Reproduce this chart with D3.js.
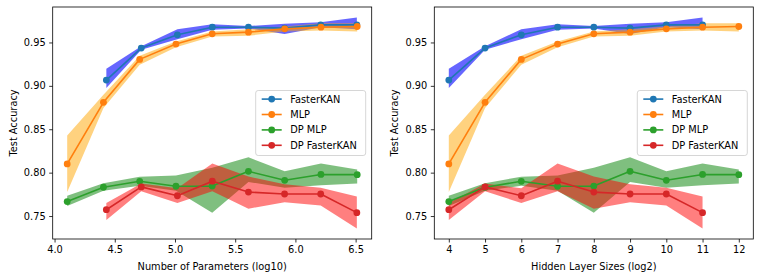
<!DOCTYPE html>
<html><head><meta charset="utf-8">
<script src="https://cdn.jsdelivr.net/npm/d3@7"></script>
<style>
body{margin:0;background:#fff}
svg{display:block}
text{font-family:"DejaVu Sans",sans-serif;fill:#000}
</style>
</head><body>
<script>
// ---- data ----
const mlpParamsLog10 = [4.105, 4.406, 4.707, 5.008, 5.309, 5.610, 5.911, 6.212, 6.513];
const kanParamsLog10 = [4.43, 4.72, 5.02, 5.31, 5.61, 5.91, 6.21, 6.51];
const mlpHiddenLog2 = [4, 5, 6, 7, 8, 9, 10, 11, 12];
const kanHiddenLog2 = [4, 5, 6, 7, 8, 9, 10, 11];

const fasterKanMean = [0.9067, 0.9435, 0.9588, 0.9676, 0.9676, 0.9665, 0.9703, 0.9703];
const fasterKanHi   = [0.9197, 0.9455, 0.9653, 0.9710, 0.9690, 0.9715, 0.9734, 0.9787];
const fasterKanLo   = [0.8975, 0.9415, 0.9538, 0.9646, 0.9662, 0.9596, 0.9676, 0.9653];

const mlpMean = [0.8101, 0.8810, 0.9305, 0.9481, 0.9600, 0.9619, 0.9657, 0.9676, 0.9684];
const mlpHi   = [0.8427, 0.8898, 0.9347, 0.9511, 0.9626, 0.9653, 0.9684, 0.9722, 0.9722];
const mlpLo   = [0.7776, 0.8745, 0.9243, 0.9446, 0.9569, 0.9577, 0.9626, 0.9638, 0.9626];

const dpMlpMean = [0.7667, 0.7832, 0.7900, 0.7843, 0.7845, 0.8015, 0.7912, 0.7979, 0.7977];
const dpMlpHi   = [0.7735, 0.7878, 0.7953, 0.7968, 0.8056, 0.8176, 0.8017, 0.8106, 0.8037];
const dpMlpLo   = [0.7615, 0.7790, 0.7849, 0.7790, 0.7538, 0.7893, 0.7826, 0.7855, 0.7874];

const dpKanMean = [0.7573, 0.7836, 0.7734, 0.7902, 0.7776, 0.7754, 0.7754, 0.7539];
const dpKanHi   = [0.7650, 0.7876, 0.7820, 0.8104, 0.7955, 0.7865, 0.7826, 0.7726];
const dpKanLo   = [0.7454, 0.7786, 0.7650, 0.7787, 0.7585, 0.7658, 0.7622, 0.7357];

const seriesNames = ["FasterKAN", "MLP", "DP MLP", "DP FasterKAN"];
const lineColors = ["#1f77b4", "#ff7f0e", "#2ca02c", "#d62728"];
const bandColors = ["blue", "orange", "green", "red"];
const bandAlpha = [0.6, 0.5, 0.5, 0.5];

const leftTicks = [4.0, 4.5, 5.0, 5.5, 6.0, 6.5];
const rightTicks = [4, 5, 6, 7, 8, 9, 10, 11, 12];
const yTicks = [0.75, 0.80, 0.85, 0.90, 0.95];

// ---- drawing ----
const W = 761, H = 279, FS = 9.8;
const svg = d3.select("body").append("svg").attr("width", W).attr("height", H);

function padDomain(vals) {
  const [a, b] = d3.extent(vals);
  const p = (b - a) * 0.05;
  return [a - p, b + p];
}

const allY = [].concat(fasterKanHi, fasterKanLo, mlpHi, mlpLo, dpMlpHi, dpMlpLo, dpKanHi, dpKanLo);
const yDom = padDomain(allY);

function panel(opt) {
  const {x0, x1, y0, y1, mlpX, kanX, ticks, fmt, xlabel} = opt;
  const g = svg.append("g");
  const x = d3.scaleLinear().domain(padDomain(mlpX.concat(kanX))).range([x0, x1]);
  const y = d3.scaleLinear().domain(yDom).range([y1, y0]);

  const series = [
    {xs: kanX, m: fasterKanMean, lo: fasterKanLo, hi: fasterKanHi},
    {xs: mlpX, m: mlpMean, lo: mlpLo, hi: mlpHi},
    {xs: mlpX, m: dpMlpMean, lo: dpMlpLo, hi: dpMlpHi},
    {xs: kanX, m: dpKanMean, lo: dpKanLo, hi: dpKanHi},
  ];

  const area = d3.area().x(d => x(d.x)).y0(d => y(d.lo)).y1(d => y(d.hi));
  const line = d3.line().x(d => x(d.x)).y(d => y(d.m));

  series.forEach((s, i) => {
    const pts = s.xs.map((xv, k) => ({x: xv, m: s.m[k], lo: s.lo[k], hi: s.hi[k]}));
    g.append("path").datum(pts).attr("d", area)
      .attr("fill", bandColors[i]).attr("fill-opacity", bandAlpha[i]).attr("stroke", "none");
  });
  series.forEach((s, i) => {
    const pts = s.xs.map((xv, k) => ({x: xv, m: s.m[k]}));
    g.append("path").datum(pts).attr("d", line)
      .attr("fill", "none").attr("stroke", lineColors[i]).attr("stroke-width", 1.6)
      .attr("stroke-linejoin", "round");
    g.selectAll(null).data(pts).enter().append("circle")
      .attr("cx", d => x(d.x)).attr("cy", d => y(d.m)).attr("r", 3.4)
      .attr("fill", lineColors[i]);
  });

  // axes
  const xa = g.append("g").attr("transform", `translate(0,${y1})`)
    .call(d3.axisBottom(x).tickValues(ticks).tickFormat(d3.format(fmt)).tickSize(3.5).tickPadding(3.5));
  const ya = g.append("g").attr("transform", `translate(${x0},0)`)
    .call(d3.axisLeft(y).tickValues(yTicks).tickFormat(d3.format(".2f")).tickSize(3.5).tickPadding(3.5));
  [xa, ya].forEach(a => {
    a.select(".domain").remove();
    a.selectAll("line").attr("stroke", "#000").attr("stroke-width", 0.8);
    a.selectAll("text").attr("font-size", FS).attr("font-family", "DejaVu Sans").attr("fill", "#000");
  });
  g.append("rect").attr("x", x0).attr("y", y0).attr("width", x1 - x0).attr("height", y1 - y0)
    .attr("fill", "none").attr("stroke", "#000").attr("stroke-width", 0.8);

  g.append("text").attr("x", (x0 + x1) / 2).attr("y", y1 + 31).attr("text-anchor", "middle")
    .attr("font-size", FS).text(xlabel);
  g.append("text").attr("transform", `translate(${x0 - 36},${(y0 + y1) / 2}) rotate(-90)`)
    .attr("text-anchor", "middle").attr("font-size", FS).text("Test Accuracy");

  // legend
  const lw = 110, lh = 65;
  const lx = x1 - 6 - lw, ly = (y0 + y1) / 2 - lh / 2;
  const lg = g.append("g").attr("transform", `translate(${lx},${ly})`);
  lg.append("rect").attr("width", lw).attr("height", lh).attr("rx", 2.5)
    .attr("fill", "#fff").attr("fill-opacity", 0.8).attr("stroke", "#cccccc").attr("stroke-width", 0.8);
  seriesNames.forEach((n, i) => {
    const cy = 8.6 + i * 15.4;
    lg.append("line").attr("x1", 6).attr("x2", 26).attr("y1", cy).attr("y2", cy)
      .attr("stroke", lineColors[i]).attr("stroke-width", 1.6);
    lg.append("circle").attr("cx", 16).attr("cy", cy).attr("r", 3.4).attr("fill", lineColors[i]);
    lg.append("text").attr("x", 34.5).attr("y", cy).attr("dy", "0.35em").attr("font-size", FS).text(n);
  });
}

panel({x0: 52.7, x1: 371.7, y0: 7, y1: 239, mlpX: mlpParamsLog10, kanX: kanParamsLog10,
  ticks: leftTicks, fmt: ".1f", xlabel: "Number of Parameters (log10)"});
panel({x0: 434.3, x1: 753.3, y0: 7, y1: 239, mlpX: mlpHiddenLog2, kanX: kanHiddenLog2,
  ticks: rightTicks, fmt: "d", xlabel: "Hidden Layer Sizes (log2)"});
</script>
</body></html>
